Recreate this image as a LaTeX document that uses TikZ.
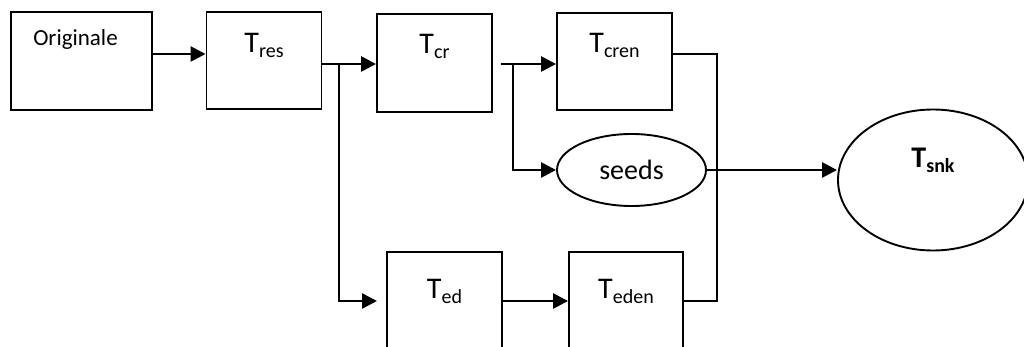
\documentclass[tikz,border=0pt]{standalone}
\usepackage{fontspec}
\setmainfont{Carlito}
\usetikzlibrary{arrows.meta,shapes.geometric}

% T with a lowered, smaller index
\newcommand\tlabel[1]{\fontsize{15}{18}\selectfont T\raisebox{-2.5pt}{\fontsize{10}{12}\selectfont #1}}

\begin{document}
\begin{tikzpicture}[x=0.5pt,y=-0.5pt,
  stage/.style={draw=black,line width=0.95pt,rectangle,inner sep=0pt,
    minimum width=57.5pt},
  oval/.style={draw=black,line width=0.95pt,ellipse,inner sep=0pt},
  arr/.style={line width=1.3pt,-{Triangle[length=7.5pt,width=7.5pt]}},
  wire/.style={line width=0.95pt}]

\useasboundingbox (0,0) rectangle (1024,347);
\clip (0,0) rectangle (1024,347);

% processing stages (text height + depth = box height, so the label sits near the top)
\node[stage,minimum width=70.5pt,text height=17pt,text depth=32pt,
  font=\fontsize{11.5}{14}\selectfont] (orig) at (81.5,61) {Originale\hspace*{6pt}};
\node[stage,text height=20.5pt,text depth=28pt] (tres)  at (264,60.5)  {\tlabel{res}};
\node[stage,text height=20pt,text depth=29pt]   (tcr)   at (434.5,63)  {\tlabel{cr}};
\node[stage,text height=20pt,text depth=28.5pt] (tcren) at (614.5,61.5){\tlabel{cren}};
\node[stage,text height=23.5pt,text depth=25.5pt] (ted)   at (444.5,301) {\tlabel{ed}};
\node[stage,minimum width=57pt,text height=23.5pt,text depth=25.5pt] (teden) at (626,301) {\tlabel{eden}};

% elliptic nodes
\node[oval,minimum width=74.5pt,minimum height=36pt,
  font=\fontsize{14}{17}\selectfont] (seeds) at (631.5,170) {seeds};
\node[oval,minimum width=95pt,minimum height=70.5pt,text height=10pt,text depth=22pt,
  font=\bfseries] (tsnk) at (933,180)
  {\fontsize{15}{18}\selectfont T\raisebox{-2.5pt}{\fontsize{10}{12}\selectfont snk}};

% branch points
\coordinate (ja) at (339,64);
\coordinate (tedin) at (377,301);
\coordinate (jb) at (501,64);
\coordinate (jc) at (513,64);
\coordinate (jd) at (717,54);

% connectors
\draw[arr] (orig.east |- 0,54) -- (tres.west |- 0,54);
\draw[arr] (tres.east |- ja) -- (tcr.west |- ja);
\draw[arr] (ja) |- (tedin);
\draw[arr] (jb) -- (tcren.west |- jb);
\draw[arr] (jc) |- (seeds.west);
\draw[wire] (tcren.east |- jd) -- (jd) |- (teden.east);
\draw[arr] (seeds.east) -- (seeds.east -| tsnk.west);
\draw[arr] (ted.east) -- (teden.west);
\end{tikzpicture}
\end{document}
